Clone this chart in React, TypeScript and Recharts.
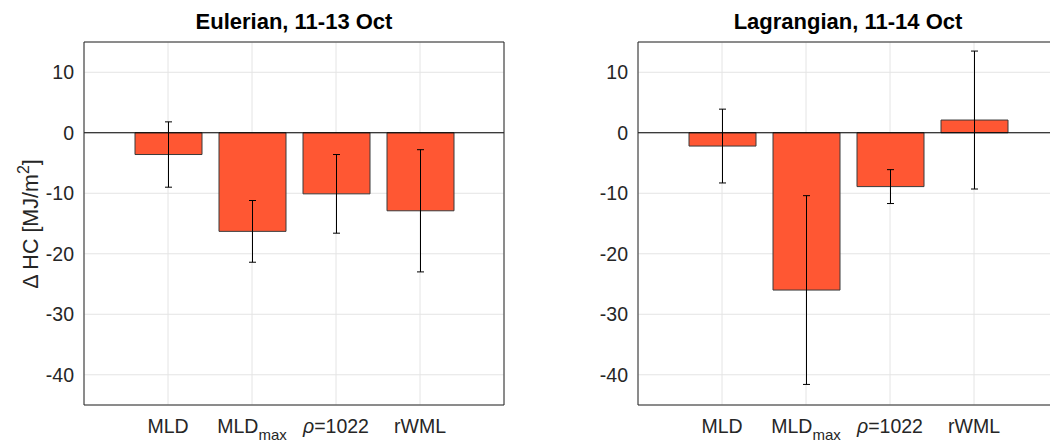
import React from "react";
import {
  BarChart,
  Bar,
  XAxis,
  YAxis,
  CartesianGrid,
  ErrorBar,
  ReferenceLine,
} from "recharts";

// values (MJ/m^2)
const categories = ["MLD", "MLD_max", "ρ=1022", "rWML"];
const eulerianChange = [-3.6, -16.3, -10.1, -12.9];
const eulerianError = [5.4, 5.1, 6.5, 10.1];
const lagrangianChange = [-2.2, -26.0, -8.9, 2.1];
const lagrangianError = [6.1, 15.6, 2.8, 11.4];
const yTicks = [-40, -30, -20, -10, 0, 10];

const FONT = "'Liberation Sans', Arial, Helvetica, sans-serif";
const INK = "#262626";
const BAR = "#FF5733";
const GRID = "#e4e4e4";
const TICK_SIZE = 19.5;

const eulerianData = categories.map((name, i) => ({
  name,
  value: eulerianChange[i],
  err: eulerianError[i],
}));
const lagrangianData = categories.map((name, i) => ({
  name,
  value: lagrangianChange[i],
  err: lagrangianError[i],
}));

function CategoryTick(props: any) {
  const { x, y, payload } = props;
  const v = payload.value as string;
  let body: React.ReactNode = v;
  if (v === "MLD_max") {
    body = (
      <>
        <tspan>MLD</tspan>
        <tspan fontSize={15} dy={7.5}>
          max
        </tspan>
      </>
    );
  } else if (v.startsWith("ρ")) {
    body = (
      <>
        <tspan fontStyle="italic">ρ</tspan>
        <tspan>{v.slice(1)}</tspan>
      </>
    );
  }
  return (
    <text x={x} y={y} dy={27.5} textAnchor="middle" fill={INK} fontSize={TICK_SIZE} fontFamily={FONT}>
      {body}
    </text>
  );
}

function YTitle() {
  return (
    <text
      transform="translate(38,224) rotate(-90)"
      textAnchor="middle"
      fill={INK}
      fontSize={21.5}
      fontFamily={FONT}
    >
      Δ HC [MJ/m
      <tspan dy={-9} fontSize={16}>
        2
      </tspan>
      <tspan dy={9}>]</tspan>
    </text>
  );
}

type PanelProps = {
  title: string;
  data: { name: string; value: number; err: number }[];
  left: number;
  width: number;
  marginLeft: number;
  marginRight: number;
  yLabel?: boolean;
};

function Panel({ title, data, left, width, marginLeft, marginRight, yLabel }: PanelProps) {
  const plotLeft = marginLeft + 60;
  const plotRight = width - marginRight;
  return (
    <div style={{ position: "absolute", left, top: 0, width, height: 443 }}>
      <div
        style={{
          position: "absolute",
          left: plotLeft,
          width: plotRight - plotLeft,
          top: 10.5,
          textAlign: "center",
          fontFamily: FONT,
          fontWeight: "bold",
          fontSize: 22,
          lineHeight: "22px",
          color: "#000",
          whiteSpace: "nowrap",
        }}
      >
        {title}
      </div>
      <BarChart
        width={width}
        height={443}
        data={data}
        margin={{ top: 42, right: marginRight, bottom: 0, left: marginLeft }}
      >
        <CartesianGrid stroke={GRID} strokeWidth={1} />
        <XAxis
          dataKey="name"
          padding={{ left: 42, right: 42 }}
          height={38}
          interval={0}
          tickLine={false}
          tickSize={0}
          tickMargin={0}
          axisLine={{ stroke: INK }}
          tick={<CategoryTick />}
        />
        <XAxis
          dataKey="name"
          xAxisId="bottomIn"
          orientation="bottom"
          mirror
          height={10}
          padding={{ left: 42, right: 42 }}
          interval={0}
          axisLine={false}
          tick={false}
          tickSize={4}
          tickLine={{ stroke: INK }}
        />
        <XAxis
          dataKey="name"
          xAxisId="top"
          orientation="top"
          mirror
          height={10}
          padding={{ left: 42, right: 42 }}
          interval={0}
          axisLine={{ stroke: INK }}
          tick={false}
          tickSize={4}
          tickLine={{ stroke: INK }}
        />
        <YAxis
          width={60}
          domain={[-45, 15]}
          ticks={yTicks}
          allowDataOverflow
          interval={0}
          tickLine={false}
          tickSize={0}
          tickMargin={10}
          axisLine={{ stroke: INK }}
          tick={{ fill: INK, fontSize: TICK_SIZE, fontFamily: FONT }}
          label={yLabel ? <YTitle /> : undefined}
        />
        <YAxis
          yAxisId="leftIn"
          orientation="left"
          mirror
          width={10}
          domain={[-45, 15]}
          ticks={yTicks}
          allowDataOverflow
          interval={0}
          axisLine={false}
          tick={false}
          tickSize={4}
          tickLine={{ stroke: INK }}
        />
        <YAxis
          yAxisId="right"
          orientation="right"
          mirror
          width={10}
          domain={[-45, 15]}
          ticks={yTicks}
          allowDataOverflow
          interval={0}
          axisLine={{ stroke: INK }}
          tick={false}
          tickSize={4}
          tickLine={{ stroke: INK }}
        />
        <Bar
          dataKey="value"
          fill={BAR}
          stroke="#3a3a3a"
          strokeWidth={1}
          barSize={67}
          isAnimationActive={false}
        >
          <ErrorBar dataKey="err" width={3.5} stroke="#000" strokeWidth={1} />
        </Bar>
        <ReferenceLine y={0} stroke="#000" strokeWidth={1} />
      </BarChart>
    </div>
  );
}

export default function App() {
  return (
    <div
      style={{
        position: "fixed",
        left: 0,
        top: 0,
        width: 1050,
        height: 443,
        overflow: "hidden",
        background: "#fff",
      }}
    >
      <Panel
        title="Eulerian, 11-13 Oct"
        data={eulerianData}
        left={0}
        width={525}
        marginLeft={24}
        marginRight={21}
        yLabel
      />
      <Panel
        title="Lagrangian, 11-14 Oct"
        data={lagrangianData}
        left={525}
        width={545}
        marginLeft={53}
        marginRight={12}
      />
    </div>
  );
}
